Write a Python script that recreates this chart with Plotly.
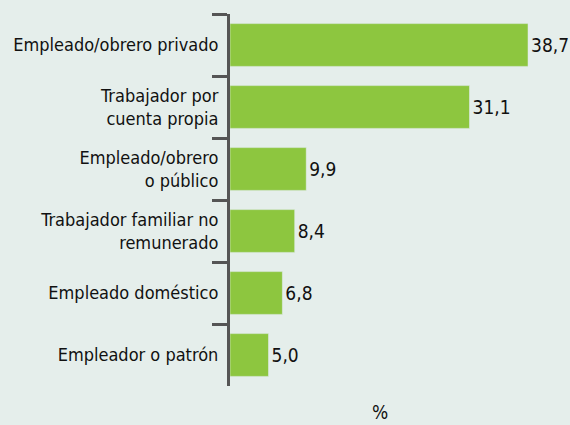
import plotly.graph_objects as go

categorias = [
    'Empleado/obrero privado',
    'Trabajador por<br>cuenta propia',
    'Empleado/obrero<br>o público',
    'Trabajador familiar no<br>remunerado',
    'Empleado doméstico',
    'Empleador o patrón',
]
valores = [38.7, 31.1, 9.9, 8.4, 6.8, 5.0]
etiquetas = [f'{v:.1f}'.replace('.', ',') for v in valores]

fuente = 'Liberation Sans Narrow, DejaVu Sans Condensed, Arial Narrow, sans-serif'

fig = go.Figure()

fig.add_trace(go.Bar(
    x=valores,
    y=categorias,
    orientation='h',
    marker_color='#8dc63f',
    text=etiquetas,
    textposition='outside',
    textfont=dict(family=fuente, size=19, color='#111111'),
    cliponaxis=False,
    hoverinfo='skip',
))

fig.update_layout(
    width=570,
    height=425,
    margin=dict(l=230, r=5, t=14, b=39),
    paper_bgcolor='#e5eeeb',
    plot_bgcolor='#e5eeeb',
    bargap=0.31,
    showlegend=False,
    font=dict(family=fuente, size=18, color='#111111'),
    annotations=[dict(
        text='%', x=(380 - 230) / 335, xref='paper', y=-0.07, yref='paper',
        xanchor='center', yanchor='middle',
        showarrow=False, font=dict(family=fuente, size=19, color='#111111'),
    )],
)

fig.update_xaxes(range=[0, 43.5], visible=False)
fig.update_yaxes(
    autorange='reversed',
    showline=True,
    linecolor='#555555',
    linewidth=3,
    ticks='outside',
    tickson='boundaries',
    ticklen=15,
    tickwidth=3,
    tickcolor='#555555',
    ticklabelstandoff=5,
    showgrid=False,
    tickfont=dict(family=fuente, size=18, color='#111111'),
)

fig.write_html('out.html', config={'displayModeBar': False},
               post_script="document.body.style.margin='0';")
